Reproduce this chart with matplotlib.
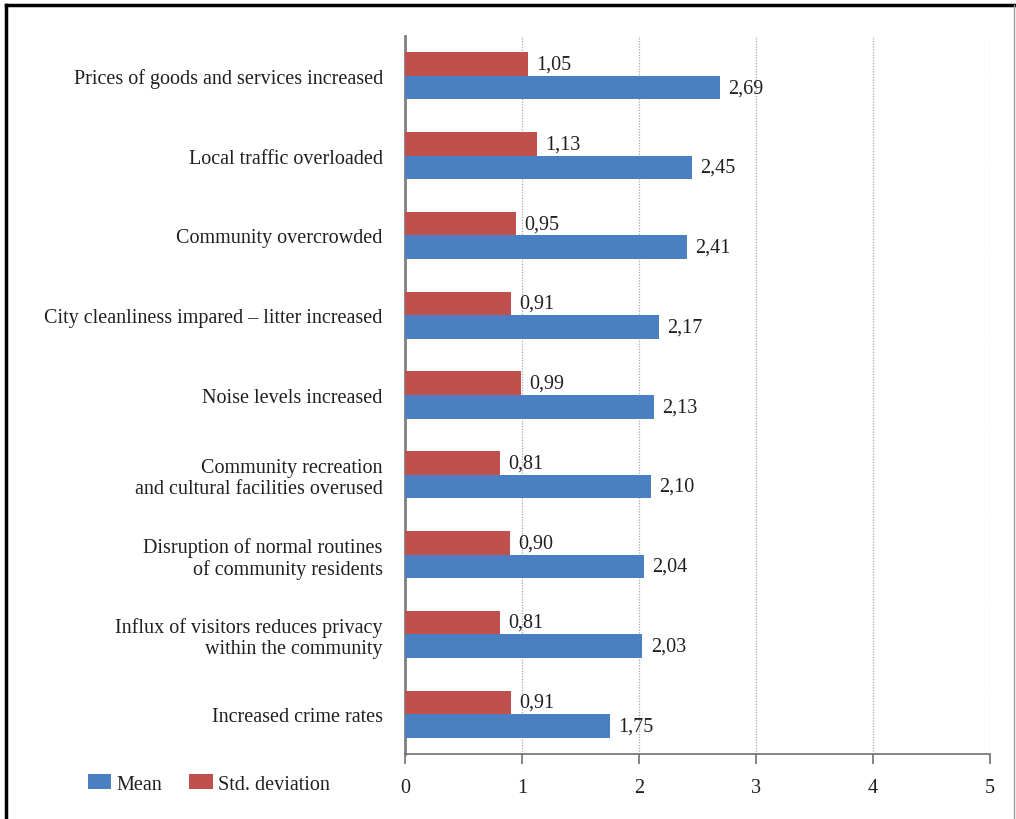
import matplotlib.pyplot as plt
import numpy as np
from matplotlib.lines import Line2D

categories = [
    "Prices of goods and services increased",
    "Local traffic overloaded",
    "Community overcrowded",
    "City cleanliness impared \u2013 litter increased",
    "Noise levels increased",
    "Community recreation\nand cultural facilities overused",
    "Disruption of normal routines\nof community residents",
    "Influx of visitors reduces privacy\nwithin the community",
    "Increased crime rates",
]
mean = [2.69, 2.45, 2.41, 2.17, 2.13, 2.10, 2.04, 2.03, 1.75]
std_dev = [1.05, 1.13, 0.95, 0.91, 0.99, 0.81, 0.90, 0.81, 0.91]
x_ticks = [0, 1, 2, 3, 4, 5]

plt.rcParams["font.family"] = ["Liberation Serif", "DejaVu Serif"]
text_color = "#231f20"
blue = "#4a7fc1"
red = "#c0504d"
fs = 14.5

fig = plt.figure(figsize=(10.16, 8.2), dpi=100)
ax = fig.add_axes([0.3986, 0.0793, 0.5758, 0.8756])

y = np.arange(len(categories))
h = 0.295
ax.barh(y + h / 2, mean, height=h, color=blue, label="Mean", zorder=3)
ax.barh(y - h / 2, std_dev, height=h, color=red, label="Std. deviation", zorder=3)

for yi, m, s in zip(y, mean, std_dev):
    ax.text(m + 0.07, yi + h / 2, f"{m:.2f}".replace(".", ","), va="center",
            ha="left", fontsize=fs, color=text_color)
    ax.text(s + 0.07, yi - h / 2, f"{s:.2f}".replace(".", ","), va="center",
            ha="left", fontsize=fs, color=text_color)

ax.set_ylim(len(categories) - 0.5, -0.5)
ax.set_xlim(0, 5)
ax.set_yticks(y)
ax.set_yticklabels(categories, fontsize=fs, color=text_color, ha="right",
                   multialignment="right", linespacing=1.15)
ax.tick_params(axis="y", length=0, pad=16)
ax.set_xticks(x_ticks)
ax.set_xticklabels([str(t) for t in x_ticks], fontsize=fs, color=text_color)
ax.tick_params(axis="x", length=7, width=1.2, color="#707070", pad=10)

for side in ["top", "right"]:
    ax.spines[side].set_visible(False)
ax.spines["left"].set_color("#808080")
ax.spines["left"].set_linewidth(2)
ax.spines["bottom"].set_color("#707070")
ax.spines["bottom"].set_linewidth(1.2)

ax.xaxis.grid(True, linestyle=(0, (1, 1.2)), color="#a8a8a8", linewidth=0.9, zorder=0)
ax.set_axisbelow(True)

handles, labels = ax.get_legend_handles_labels()
fig.legend(handles, labels, loc="center left", bbox_to_anchor=(0.069, 0.043),
           ncol=2, frameon=False, fontsize=fs, handlelength=1.15,
           handleheight=0.8, handletextpad=0.25, columnspacing=1.35,
           labelcolor=text_color)

# frame around the figure
fig.add_artist(Line2D([0.006, 0.006], [0, 0.993], transform=fig.transFigure,
                      color="black", linewidth=2.5))
fig.add_artist(Line2D([0.006, 0.999], [0.993, 0.993], transform=fig.transFigure,
                      color="black", linewidth=2.5))
fig.add_artist(Line2D([0.998, 0.998], [0, 0.993], transform=fig.transFigure,
                      color="#999999", linewidth=1))

fig.savefig("out.png", dpi=100)
